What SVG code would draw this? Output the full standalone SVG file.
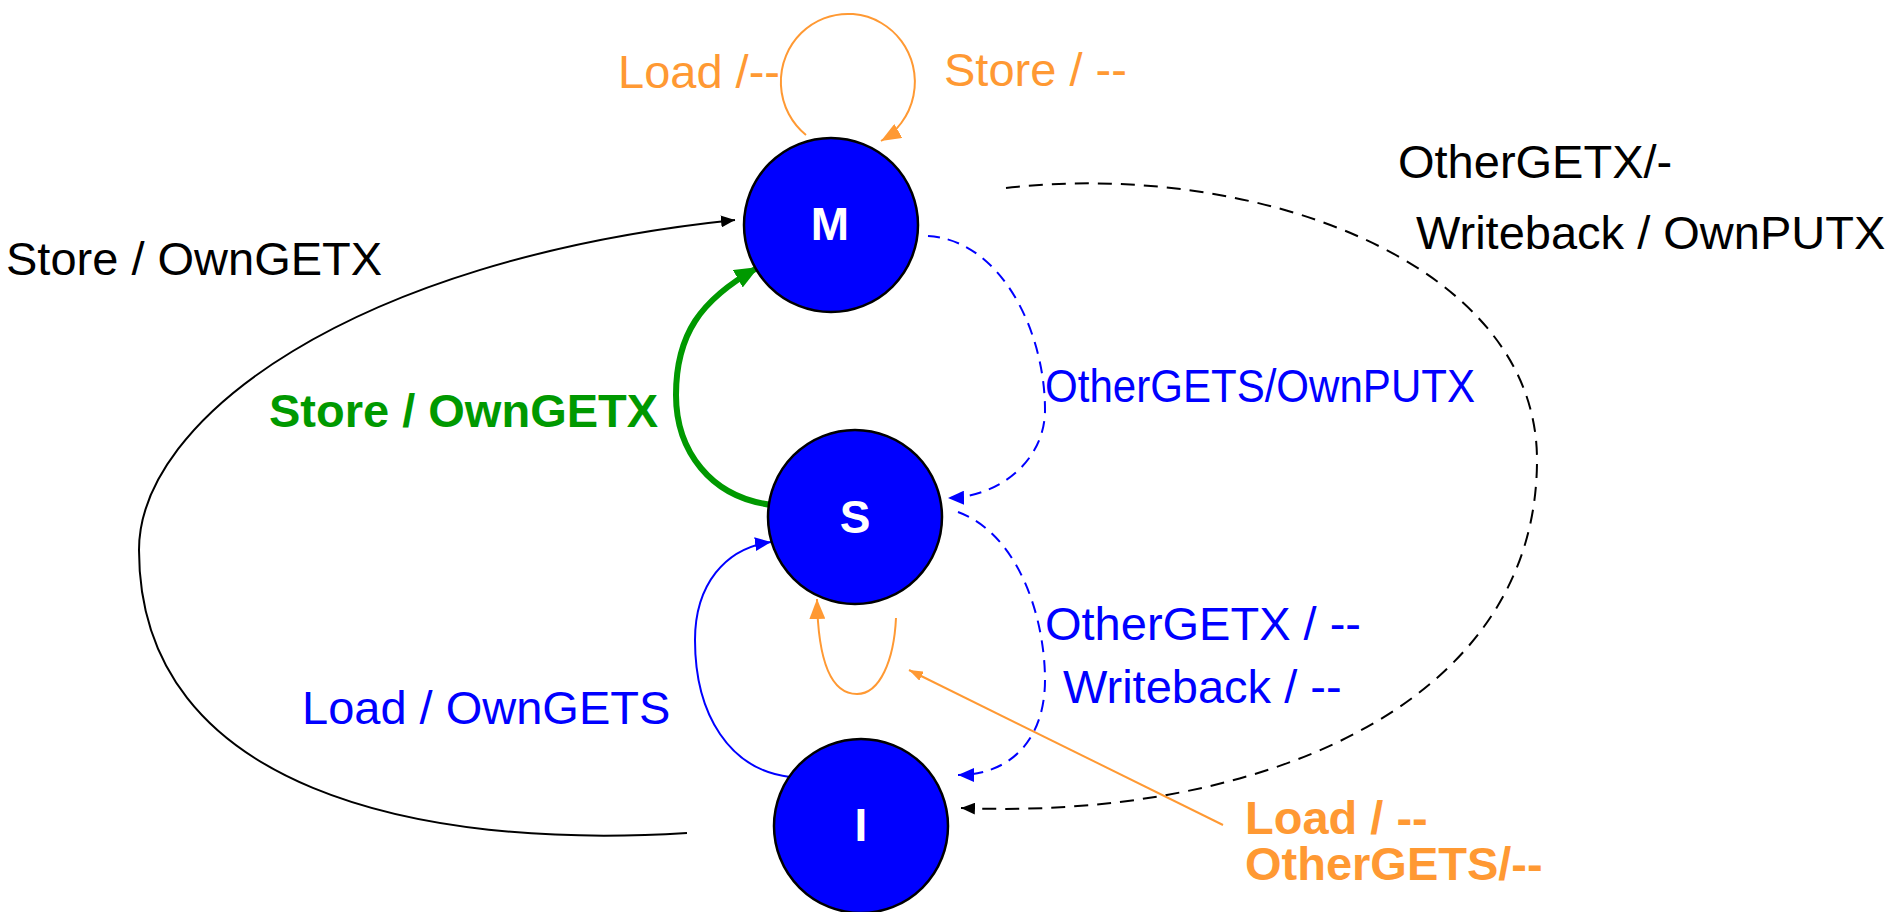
<svg xmlns="http://www.w3.org/2000/svg" width="1901" height="912" viewBox="0 0 1901 912">
<style>
  text { font-family: "Liberation Sans", Arial, sans-serif; font-size: 47px; }
  .node circle { fill: #0000FF; stroke: #000000; stroke-width: 2.5; }
  .node text { fill: #FFFFFF; font-weight: bold; font-size: 46px; text-anchor: middle; }
  .c { fill: none; stroke-width: 2; }
  .orange { stroke: #FF9933; }
  .blue { stroke: #0000FF; }
  .black { stroke: #000000; }
  .green { stroke: #009900; stroke-width: 6; stroke-linecap: round; }
  .dashb { stroke-dasharray: 12 8; }
  .dashk { stroke-dasharray: 14 9; }
  .lo { fill: #FF9933; }
  .lb { fill: #0000FF; }
  .lk { fill: #000000; }
  .lg { fill: #009900; font-weight: bold; }
  .lob { fill: #FF9933; font-weight: bold; }
</style>
<defs>
  <marker id="arrK" markerUnits="userSpaceOnUse" viewBox="0 0 14 12" refX="14" refY="6" markerWidth="14" markerHeight="12" orient="auto"><path d="M0,0 L14,6 L0,12 z" fill="#000000"/></marker>
  <marker id="arrB" markerUnits="userSpaceOnUse" viewBox="0 0 16 14" refX="16" refY="7" markerWidth="16" markerHeight="14" orient="auto"><path d="M0,0 L16,7 L0,14 z" fill="#0000FF"/></marker>
  <marker id="arrO" markerUnits="userSpaceOnUse" viewBox="0 0 20 16" refX="20" refY="8" markerWidth="20" markerHeight="16" orient="auto"><path d="M0,0 L20,8 L0,16 z" fill="#FF9933"/></marker>
  <marker id="arrOs" markerUnits="userSpaceOnUse" viewBox="0 0 14 10" refX="14" refY="5" markerWidth="14" markerHeight="10" orient="auto"><path d="M0,0 L14,5 L0,10 z" fill="#FF9933"/></marker>
  <marker id="arrG" markerUnits="userSpaceOnUse" viewBox="0 0 24 20" refX="22" refY="10" markerWidth="24" markerHeight="20" orient="auto"><path d="M0,0 L24,10 L0,20 z" fill="#009900"/></marker>
</defs>

<g id="connectors">
  <!-- M self loop -->
  <path class="c orange" d="M 806 135 A 67 68 0 1 1 881 141" marker-end="url(#arrO)"/>
  <!-- I -> M Store / OwnGETX -->
  <path class="c black" d="M 687 833 C 420 850 139 790 139 550 C 139 420 350 260 735 220" marker-end="url(#arrK)"/>
  <!-- S -> M green -->
  <path class="c green" d="M 773 505 C 710 498 676 450 676 395 C 676 335 700 300 757 268" marker-end="url(#arrG)"/>
  <!-- M -> S OtherGETS/OwnPUTX -->
  <path class="c blue dashb" d="M 928 236 C 1000 240 1045 330 1045 410 C 1045 460 1000 497 948 498" marker-end="url(#arrB)"/>
  <!-- S -> I OtherGETX / Writeback -->
  <path class="c blue dashb" d="M 958 512 C 1020 535 1045 620 1045 680 C 1045 740 1010 775 958 775" marker-end="url(#arrB)"/>
  <!-- M -> I OtherGETX/- Writeback / OwnPUTX -->
  <path class="c black dashk" d="M 1006 188 C 1250 160 1537 260 1537 460 C 1537 710 1250 820 961 808" marker-end="url(#arrK)"/>
  <!-- I -> S Load / OwnGETS -->
  <path class="c blue" d="M 790 777 C 730 770 695 715 695 640 C 695 585 725 548 771 542" marker-end="url(#arrB)"/>
  <!-- S self loop -->
  <path class="c orange" d="M 896 618 C 894 660 880 694 857 694 C 830 694 818 660 817 599" marker-end="url(#arrO)"/>
  <!-- pointer from label -->
  <path class="c orange" d="M 1223 825 L 909 670" marker-end="url(#arrOs)"/>
</g>

<g id="node-M" class="node">
  <circle cx="831" cy="225" r="87"/>
  <text x="830" y="240">M</text>
</g>
<g id="node-S" class="node">
  <circle cx="855" cy="517" r="87"/>
  <text x="855" y="533">S</text>
</g>
<g id="node-I" class="node">
  <circle cx="861" cy="826" r="87"/>
  <text x="861" y="841">I</text>
</g>

<g id="labels">
  <text class="lo" x="618" y="88">Load /--</text>
  <text class="lo" x="944" y="86">Store / --</text>
  <text class="lk" x="6" y="275">Store / OwnGETX</text>
  <text class="lk" x="1398" y="178">OtherGETX/-</text>
  <text class="lk" x="1416" y="249">Writeback / OwnPUTX</text>
  <text class="lg" x="269" y="427">Store / OwnGETX</text>
  <text class="lb" x="1045" y="402" textLength="430" lengthAdjust="spacingAndGlyphs">OtherGETS/OwnPUTX</text>
  <text class="lb" x="1045" y="640">OtherGETX / --</text>
  <text class="lb" x="1063" y="703">Writeback / --</text>
  <text class="lb" x="302" y="724">Load / OwnGETS</text>
  <text class="lob" x="1245" y="834">Load / --</text>
  <text class="lob" x="1245" y="880">OtherGETS/--</text>
</g>
</svg>
